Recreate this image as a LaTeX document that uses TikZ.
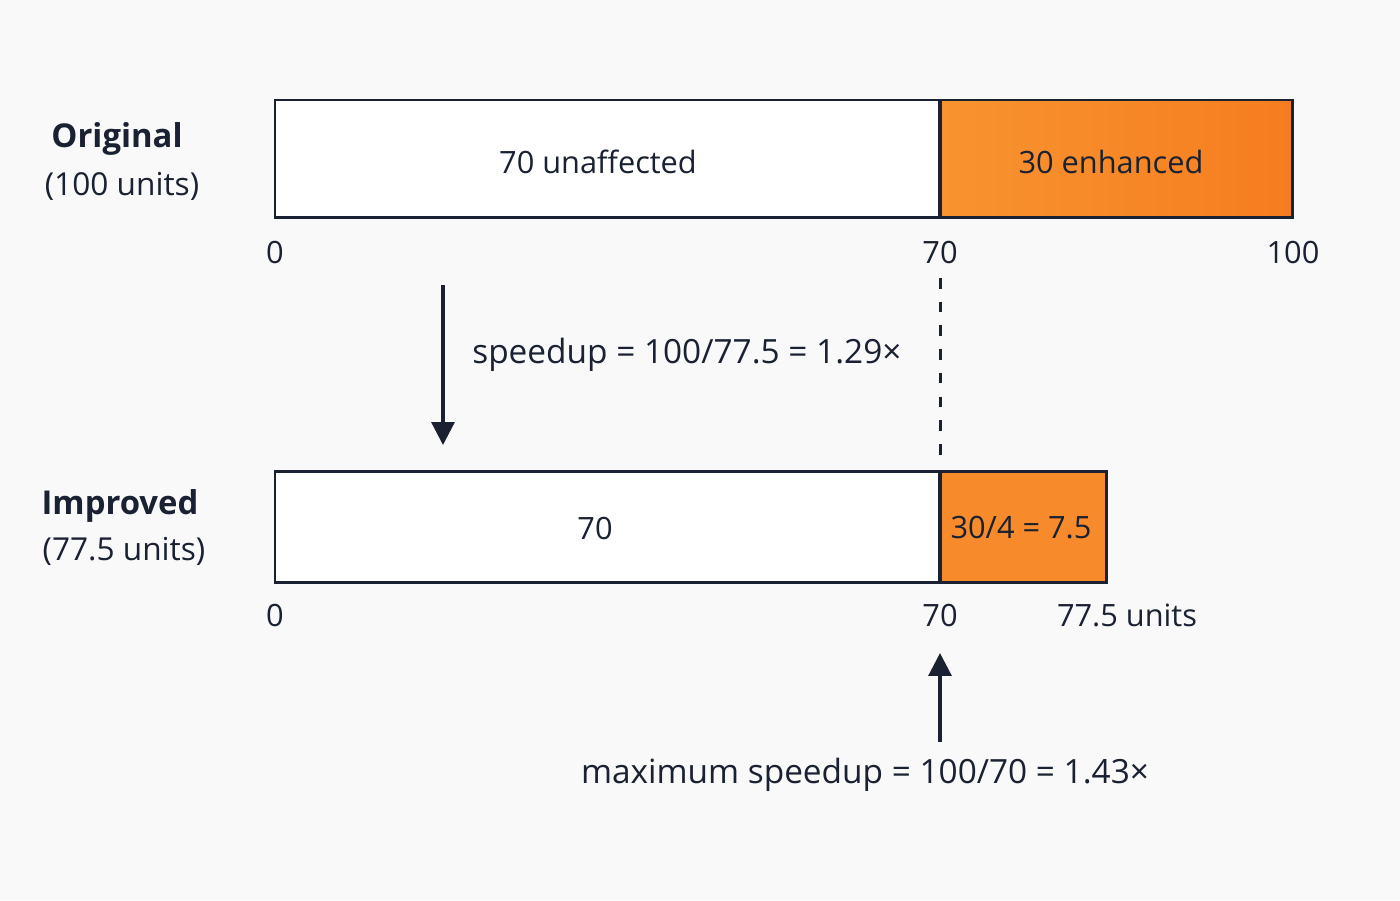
\documentclass[tikz,border=0pt]{standalone}
\usepackage{fontspec}
\setmainfont{Open Sans}
\usetikzlibrary{arrows.meta}
\definecolor{ink}{HTML}{1A2132}
\definecolor{orA}{HTML}{F8932F}
\definecolor{orB}{HTML}{F57D20}
\definecolor{orC}{HTML}{F78A2A}
\definecolor{bg}{HTML}{F9F9F9}
\begin{document}
\begin{tikzpicture}[x=0.02cm,y=-0.02cm,
  bar/.style={draw=ink, line width=1.7pt, anchor=north west, inner sep=0pt, outer sep=0pt},
  lab/.style={text=ink, font=\fontsize{17.5}{21}\selectfont, inner sep=0pt},
  note/.style={text=ink, font=\fontsize{19}{22}\selectfont, inner sep=0pt},
  title/.style={text=ink, font=\fontsize{18.7}{22}\selectfont\bfseries, inner sep=0pt},
  sub/.style={text=ink, font=\fontsize{18}{21}\selectfont, inner sep=0pt},
  conn/.style={draw=ink, line width=1.8pt, -{Triangle[length=13pt,width=13pt]}},
  guide/.style={draw=ink, line width=1.7pt, dash pattern=on 6pt off 7.5pt}]
\fill[bg] (0,0) rectangle (1400,900);
\useasboundingbox (0,0) rectangle (1400,900);
% top bar
\node[bar, fill=white, minimum width=13.3cm, minimum height=2.36cm] (ow) at (275,100) {};
\node[bar, left color=orA, right color=orB, minimum width=7.06cm, minimum height=2.36cm] (oe) at (940,100) {};
\node[lab] (owt) at (598,162) {70 unaffected};
\node[lab] (oet) at (1111,162) {30 enhanced};
% bottom bar
\node[bar, fill=white, minimum width=13.3cm, minimum height=2.24cm] (iw) at (275,471) {};
\node[bar, fill=orC, minimum width=3.34cm, minimum height=2.24cm] (ie) at (940,471) {};
\node[lab] (iwt) at (595,528) {70};
\node[lab] (iet) at (1021,528) {30/4 = 7.5};
% row titles
\node[title] (t1) at (117,139) {Original};
\node[sub] (s1) at (122,186) {(100 units)};
\node[title] (t2) at (120,506) {Improved};
\node[sub] (s2) at (124,551) {(77.5 units)};
% ticks
\node[lab] (a0) at (275,252) {0};
\node[lab] (a70) at (940,252) {70};
\node[lab] (a100) at (1293,252) {100};
\node[lab] (b0) at (275,615) {0};
\node[lab] (b70) at (940,615) {70};
\node[lab] (b775) at (1127,615) {77.5 units};
% dashed guide
\coordinate (g1) at (940,278);
\coordinate (g2) at (940,455);
\draw[guide] (g1) -- (g2);
% speedup arrow
\coordinate (d1) at (443,285);
\coordinate (d2) at (443,445);
\draw[conn] (d1) -- (d2);
\node[note, anchor=west] (sp) at (472,355) {speedup = 100/77.5 = 1.29×};
% max speedup
\node[note] (mx) at (865,775) {maximum speedup = 100/70 = 1.43×};
\coordinate (u1) at (940,742);
\coordinate (u2) at (940,653);
\draw[conn] (u1) -- (u2);
\end{tikzpicture}
\end{document}
